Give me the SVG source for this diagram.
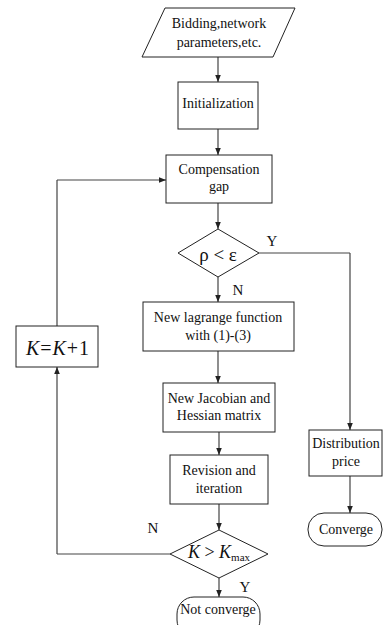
<svg xmlns="http://www.w3.org/2000/svg" width="383" height="625" viewBox="0 0 383 625">
<defs>
<marker id="ah" viewBox="0 0 10 10" refX="10" refY="5" markerWidth="7" markerHeight="7" orient="auto" markerUnits="userSpaceOnUse">
<path d="M0,1 L10,5 L0,9 z" fill="#222"/>
</marker>
<style>
.s{fill:#fff;stroke:#222;stroke-width:1}
.t{font-size:14px;fill:#111;text-anchor:middle}
.c{fill:none;stroke:#444;stroke-width:1.2}
.a{marker-end:url(#ah)}
.m{fill:#111;text-anchor:middle}
</style>
</defs>
<rect width="383" height="625" fill="#fff"/>
<g id="connectors">
<path class="c a" d="M218,57 V82"/>
<path class="c a" d="M218,129 V155"/>
<path class="c a" d="M218,203 V229"/>
<path class="c" d="M259,253 H350"/>
<path class="c a" d="M350,253 V430"/>
<path class="c a" d="M350,476 V513"/>
<path class="c a" d="M218,277 V302"/>
<path class="c a" d="M218,351 V383"/>
<path class="c a" d="M219,432 V455"/>
<path class="c a" d="M219,504 V530"/>
<path class="c" d="M170,554 H57"/>
<path class="c a" d="M57,554 V367"/>
<path class="c" d="M57,326 V180"/>
<path class="c a" d="M57,180 H166"/>
<path class="c a" d="M219,578 V597"/>
</g>
<g font-family="Liberation Serif, Times New Roman, Times, DejaVu Serif, serif">
<g id="labels">
<text class="m" x="272" y="246" font-size="15">Y</text>
<text class="m" x="238" y="295" font-size="15">N</text>
<text class="m" x="153" y="533" font-size="15">N</text>
<text class="m" x="245" y="592" font-size="15">Y</text>
</g>
<g id="input">
<polygon class="s" points="165,8 295,8 273,57 142,57"/>
<text class="t" x="219" y="28">Bidding,network</text>
<text class="t" x="219" y="47">parameters,etc.</text>
</g>
<g id="init">
<rect class="s" x="178" y="82" width="80" height="47"/>
<text class="t" x="218" y="108">Initialization</text>
</g>
<g id="comp">
<rect class="s" x="166" y="155" width="106" height="48"/>
<text class="t" x="219" y="174">Compensation</text>
<text class="t" x="219" y="191">gap</text>
</g>
<g id="dec1">
<polygon class="s" points="218,229 259,253 218,277 178,253"/>
<text class="m" x="218" y="261" font-size="19">ρ &lt; ε</text>
</g>
<g id="lagrange">
<rect class="s" x="143" y="302" width="151" height="49"/>
<text class="t" x="218" y="322">New lagrange function</text>
<text class="t" x="218" y="340">with (1)-(3)</text>
</g>
<g id="jacobian">
<rect class="s" x="163" y="383" width="112" height="49"/>
<text class="t" x="219" y="403">New Jacobian and</text>
<text class="t" x="219" y="420">Hessian matrix</text>
</g>
<g id="revision">
<rect class="s" x="170" y="455" width="98" height="49"/>
<text class="t" x="219" y="475">Revision and</text>
<text class="t" x="219" y="493">iteration</text>
</g>
<g id="dec2">
<polygon class="s" points="219,530 268,554 219,578 170,554"/>
<text class="m" x="219" y="558" font-size="18"><tspan font-style="italic">K</tspan> &gt; <tspan font-style="italic">K</tspan><tspan font-size="11" dy="3">max</tspan></text>
</g>
<g id="kinc">
<rect class="s" x="16" y="326" width="82" height="41"/>
<text class="m" x="58" y="355" font-size="20" letter-spacing="1"><tspan font-style="italic">K</tspan>=<tspan font-style="italic">K</tspan>+1</text>
</g>
<g id="dist">
<rect class="s" x="309" y="430" width="73" height="46"/>
<text class="t" x="346" y="448">Distribution</text>
<text class="t" x="346" y="466">price</text>
</g>
<g id="converge">
<rect class="s" x="308" y="513" width="74" height="33" rx="16" ry="16"/>
<text class="t" x="346" y="534">Converge</text>
</g>
<g id="notconv">
<rect class="s" x="177" y="597" width="83" height="40" rx="17" ry="17"/>
<text class="t" x="218" y="614">Not converge</text>
</g>
</g>
</svg>
